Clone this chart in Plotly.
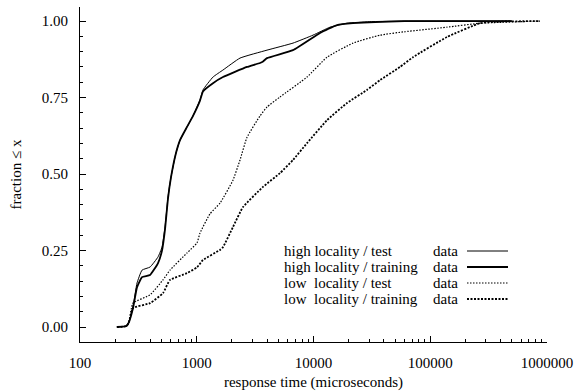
import plotly.graph_objects as go

# ---- data ----
hi_test_x = [207, 250, 262, 284, 308, 340, 398, 466, 504, 535, 567, 602, 660, 719, 825, 929,
             1066, 1131, 1377, 1678, 2347, 3997, 6675, 9901, 13850, 19360, 30000, 60000, 500000]
hi_test_y = [0, 0.003, 0.015, 0.065, 0.144, 0.186, 0.196, 0.229, 0.261, 0.327, 0.425, 0.49,
             0.565, 0.611, 0.654, 0.69, 0.742, 0.775, 0.817, 0.84, 0.879, 0.905, 0.928, 0.954,
             0.98, 0.993, 0.998, 1.0, 1.0]

hi_train_x = [207, 250, 262, 284, 308, 340, 398, 466, 504, 535, 567, 602, 660, 719, 825, 929,
              1066, 1131, 1377, 1678, 2694, 3482, 3700, 3997, 6675, 11370, 15890, 21800, 60000,
              500000]
hi_train_y = [0, 0.003, 0.015, 0.06, 0.13, 0.163, 0.17, 0.209, 0.25, 0.32, 0.42, 0.49, 0.565,
              0.611, 0.654, 0.69, 0.74, 0.77, 0.797, 0.817, 0.85, 0.863, 0.868, 0.879, 0.905,
              0.961, 0.987, 0.993, 1.0, 1.0]

lo_test_x = [207, 250, 262, 284, 398, 514, 590, 825, 1005, 1066, 1299, 1582, 2044, 2347, 2694,
             3482, 3997, 5164, 8798, 13050, 21800, 37120, 60000, 139200, 266800, 871000]
lo_test_y = [0, 0.003, 0.015, 0.078, 0.105, 0.154, 0.186, 0.242, 0.275, 0.307, 0.37, 0.405,
             0.48, 0.546, 0.62, 0.69, 0.719, 0.752, 0.817, 0.882, 0.928, 0.954, 0.965, 0.98,
             0.993, 1.0]

lo_train_x = [207, 250, 262, 284, 398, 514, 590, 825, 1005, 1131, 1582, 1678, 2044, 2489, 3694,
              5164, 6675, 8798, 13050, 19360, 28720, 37120, 55070, 71150, 139200, 266800,
              373000, 871000]
lo_train_y = [0, 0.003, 0.015, 0.062, 0.078, 0.111, 0.154, 0.176, 0.195, 0.219, 0.252, 0.261,
              0.327, 0.392, 0.458, 0.503, 0.546, 0.601, 0.676, 0.732, 0.775, 0.807, 0.85, 0.882,
              0.948, 0.993, 0.998, 1.0]

legend_names = ["high locality / test", "high locality / training",
                "low  locality / test", "low  locality / training"]
x_tick_vals = [100, 1000, 10000, 100000, 1000000]
x_tick_text = ["100", "1000", "10000", "100000", "1000000"]
y_tick_vals = [0, 0.25, 0.5, 0.75, 1.0]

series = [
    (hi_test_x, hi_test_y, "solid", 1.0),
    (hi_train_x, hi_train_y, "solid", 1.8),
    (lo_test_x, lo_test_y, "1.5px,1.5px", 1.2),
    (lo_train_x, lo_train_y, "2px,1.5px", 1.8),
]

FONT = "Liberation Serif"
FS = 15
W, H = 578, 391
L, R, T, B = 80, 31, 7, 49

fig = go.Figure()
for (xs, ys, dash, w), name in zip(series, legend_names):
    fig.add_trace(go.Scatter(x=xs, y=ys, mode="lines", name=name,
                             line=dict(color="black", width=w, dash=dash, shape="spline",
                                       smoothing=0.4),
                             showlegend=False))

pw, ph = W - L - R, H - T - B
def px2paper(px, py):
    return (px - L) / pw, (H - B - py) / ph

# custom legend (text on the left, sample on the right, as in the reference)
rows_y = [251, 267, 283, 299]
for i, name in enumerate(legend_names):
    x0, y0 = px2paper(282, rows_y[i])
    fig.add_annotation(x=x0, y=y0, xref="paper", yref="paper",
                       text=name.replace("  ", "&nbsp; "),
                       showarrow=False, xanchor="left", yanchor="middle",
                       font=dict(family=FONT, size=FS, color="black"))
    xd, _ = px2paper(431, rows_y[i])
    fig.add_annotation(x=xd, y=y0, xref="paper", yref="paper", text="data",
                       showarrow=False, xanchor="left", yanchor="middle",
                       font=dict(family=FONT, size=FS, color="black"))
    xa, _ = px2paper(467, rows_y[i])
    xb, _ = px2paper(508, rows_y[i])
    fig.add_shape(type="line", xref="paper", yref="paper", x0=xa, x1=xb, y0=y0, y1=y0,
                  line=dict(color="black", width=series[i][3], dash=series[i][2]))

minor_x = [m * 10 ** k for k in range(2, 6) for m in range(2, 10)]

fig.update_xaxes(type="log", range=[2, 6], showline=True, linecolor="black", linewidth=1,
                 mirror=False, showgrid=False, zeroline=False, automargin=False,
                 tickvals=x_tick_vals, ticktext=x_tick_text,
                 ticks="inside", ticklen=6, tickcolor="black",
                 minor=dict(tickvals=minor_x, ticks="inside", ticklen=3, tickcolor="black",
                            showgrid=False),
                 tickfont=dict(family=FONT, size=FS, color="black"),
                 ticklabelstandoff=7,
                 title=dict(text="response time (microseconds)", standoff=8,
                            font=dict(family=FONT, size=FS, color="black")))
fig.update_yaxes(range=[-0.049, 1.046], showline=True, linecolor="black", linewidth=1,
                 mirror=False, showgrid=False, zeroline=False, automargin=False,
                 tickvals=y_tick_vals, tickformat=".2f",
                 ticks="inside", ticklen=6, tickcolor="black",
                 minor=dict(dtick=0.05, ticks="inside", ticklen=3, tickcolor="black",
                            showgrid=False),
                 tickfont=dict(family=FONT, size=FS, color="black"),
                 ticklabelstandoff=8,
                 title=dict(text="fraction ≤ x", standoff=16,
                            font=dict(family=FONT, size=FS, color="black")))

fig.update_layout(width=W, height=H, margin=dict(l=L, r=R, t=T, b=B),
                  plot_bgcolor="white", paper_bgcolor="white", showlegend=False)

fig.write_html("out.html")
